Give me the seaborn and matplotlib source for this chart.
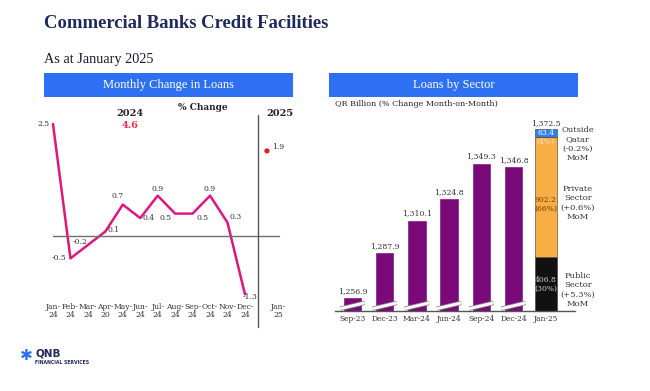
import numpy as np
import pandas as pd
import matplotlib
matplotlib.use("Agg")
import matplotlib.pyplot as plt
import seaborn as sns

# monthly change in loans (%)
months = ["Jan-\n24", "Feb-\n24", "Mar-\n24", "Apr-\n20", "May-\n24", "Jun-\n24",
          "Jul-\n24", "Aug-\n24", "Sep-\n24", "Oct-\n24", "Nov-\n24", "Dec-\n24"]
change_2024 = [2.5, -0.5, -0.2, 0.1, 0.7, 0.4, 0.9, 0.5, 0.5, 0.9, 0.3, -1.3]
jan25_tick = "Jan-\n25"
change_jan25 = 1.9
total_2024 = 4.6

# loans by sector (QR billion)
periods = ["Sep-23", "Dec-23", "Mar-24", "Jun-24", "Sep-24", "Dec-24", "Jan-25"]
loans = [1256.9, 1287.9, 1310.1, 1324.8, 1349.3, 1346.8]
jan25_total = 1372.5
sectors = ["Public\nSector", "Private\nSector", "Outside\nQatar"]
sector_values = [406.8, 902.2, 63.4]
sector_share = ["(30%)", "(66%)", "(4%)"]
sector_mom = ["(+5.3%)", "(+0.6%)", "(-0.2%)"]

W, H = 650, 391
NAVY = "#1f2a5c"
BLUE = "#2e70f2"
PINK = "#e0177a"
PURPLE = "#7a0a7a"
TXT = "#333333"
HEAD_FONT = ["Liberation Serif", "DejaVu Serif"]

sns.set_style("white")
plt.rcParams["font.family"] = ["DejaVu Serif"]

fig = plt.figure(figsize=(6.5, 3.91), dpi=100)


def px_axes(x0, y0, x1, y1):
    return fig.add_axes([x0 / W, 1 - y1 / H, (x1 - x0) / W, (y1 - y0) / H])


def ftext(x, y, s, **kw):
    return fig.text(x / W, 1 - y / H, s, **kw)


# titles
ftext(44, 23, "Commercial Banks Credit Facilities", fontsize=13.4, fontweight="bold",
      color=NAVY, va="center", family=HEAD_FONT)
ftext(44, 59, "As at January 2025", fontsize=10.3, color="#1a1a2e", va="center",
      family=HEAD_FONT)

for x0, x1, label in [(44, 293, "Monthly Change in Loans"), (329, 578, "Loans by Sector")]:
    hb = px_axes(x0, 73, x1, 97)
    hb.set_facecolor(BLUE)
    hb.set_xticks([])
    hb.set_yticks([])
    for s in hb.spines.values():
        s.set_visible(False)
    hb.text(0.5, 0.5, label, color="white", fontsize=9, ha="center", va="center",
            transform=hb.transAxes, family=HEAD_FONT)

# ---- left: monthly change line
ax1 = px_axes(40, 105, 295, 300)
df1 = pd.DataFrame({"pos": np.arange(len(months)), "change": change_2024})
sns.lineplot(data=df1, x="pos", y="change", ax=ax1, color=PINK, lw=1.8)
jan25_pos = 12.26
sns.scatterplot(x=[jan25_pos], y=[change_jan25], ax=ax1, color="#e31b23", s=14,
                edgecolor="none")
ax1.set_xlim(-13 / 17.45, 242 / 17.45)
ax1.set_ylim(-64 / 44.8, 131 / 44.8)
ax1.set_xticks(list(range(len(months))) + [12.9])
ax1.set_xticklabels(months + [jan25_tick], fontsize=5.5, color=TXT, linespacing=1.0)
ax1.tick_params(axis="x", length=0, pad=2)
ax1.set_yticks([])
ax1.set_xlabel("")
ax1.set_ylabel("")
for s in ax1.spines.values():
    s.set_visible(False)
ax1.axhline(0, xmin=13 / 255, xmax=239 / 255, color="#707070", lw=1)
ax1.axvline(11.75, ymin=-27 / 195, ymax=185 / 195, color="#555555", lw=1, clip_on=False)

offsets = [(-7, 0), (-8, 0), (-6, 2), (6, 1), (-4, 6), (6, 0),
           (0, 5), (-7, -3), (7, -3), (0, 5), (6, 4), (4, -2)]
for i, (v, (dx, dy)) in enumerate(zip(change_2024, offsets)):
    ax1.annotate(f"{v:.1f}", (i, v), xytext=(dx, dy), textcoords="offset points",
                 ha="center", va="center", fontsize=5.5, color=TXT)
ax1.annotate(f"{change_jan25:.1f}", (jan25_pos, change_jan25), xytext=(8, 3),
             textcoords="offset points", ha="center", va="center", fontsize=5.5, color=TXT)

ftext(130, 113, "2024", fontsize=7, fontweight="bold", color="#222222", ha="center", va="center")
ftext(130, 125, f"{total_2024:.1f}", fontsize=7, fontweight="bold", color="#e0314b",
      ha="center", va="center")
ftext(203, 107, "% Change", fontsize=6.5, fontweight="bold", color="#222222", ha="center", va="center")
ftext(280, 113, "2025", fontsize=7, fontweight="bold", color="#222222", ha="center", va="center")

# ---- right: loans by sector
ax2 = px_axes(335, 120, 575, 311)
ylo = 1247.26
df2 = pd.DataFrame({"period": periods[:len(loans)], "loans": loans})
sns.barplot(data=df2, x="period", y="loans", order=periods, color=PURPLE, saturation=1,
            width=0.6, ax=ax2)
ax2.set_ylim(ylo, ylo + 191 / 1.453)
ax2.set_xlim(-17.5 / 32.2, 222.5 / 32.2)

# stacked Jan-25 bar, scaled onto the broken axis
span = jan25_total - ylo
cum = np.concatenate([[0], np.cumsum(sector_values)])
edges = ylo + cum / jan25_total * span
seg_colors = ["#111111", "#f9ae45", "#2f7fe6"]
jx = len(periods) - 1
for k in range(3):
    ax2.bar(jx, edges[k + 1] - edges[k], bottom=edges[k], width=0.68, color=seg_colors[k],
            edgecolor="#3a3a3a", lw=0.4)

# value labels
for i, v in enumerate(loans + [jan25_total]):
    ax2.annotate(f"{v:,.1f}", (i, v), xytext=(0, 1.5), textcoords="offset points",
                 ha="center", va="bottom", fontsize=5.6, color=TXT)

# labels inside the stacked bar
mid = (edges[:-1] + edges[1:]) / 2
ax2.text(jx, mid[0], f"{sector_values[0]:.1f}\n{sector_share[0]}", ha="center", va="center",
         fontsize=5.5, color="#cfcfcf", linespacing=1.1)
ax2.text(jx, mid[1] - 5, f"{sector_values[1]:.1f}\n{sector_share[1]}", ha="center", va="center",
         fontsize=5.5, color="#6a4200", linespacing=1.1)
ax2.text(jx, mid[2], f"{sector_values[2]:.1f}", ha="center", va="center", fontsize=5.5, color="white")
ax2.annotate(sector_share[2], (jx, mid[2]), xytext=(0, -6), textcoords="offset points",
             ha="center", va="center", fontsize=5.5, color="#fde2b8")

# axis break marks
for i in range(len(loans)):
    ax2.plot([i - 0.38, i + 0.38], [ylo + 1.6, ylo + 5.6], color="#8a8a8a", lw=3.2,
             solid_capstyle="butt", zorder=4)
    ax2.plot([i - 0.38, i + 0.38], [ylo + 1.6, ylo + 5.6], color="white", lw=2.0,
             solid_capstyle="butt", zorder=5)

ax2.set_xlabel("")
ax2.set_ylabel("")
ax2.set_yticks([])
ax2.tick_params(axis="x", length=0, pad=3, labelsize=5.4, labelcolor=TXT)
for name, s in ax2.spines.items():
    s.set_visible(name == "bottom")
ax2.spines["bottom"].set_color("#555555")
ax2.spines["bottom"].set_linewidth(1)

ftext(335, 104, "QR Billion (% Change Month-on-Month)", fontsize=5.8, color="#222222", va="center")

for ylab, k in [(144, 2), (203, 1), (290, 0)]:
    ftext(578, ylab, f"{sectors[k]}\n{sector_mom[k]}\nMoM", fontsize=6, color=TXT,
          ha="center", va="center", linespacing=1.25)

# logo
ftext(26, 356, "\u2731", fontsize=11, color=BLUE, ha="center", va="center",
      family=["DejaVu Sans"])
ftext(35, 354, "QNB", fontsize=7.5, fontweight="bold", color=NAVY, va="center",
      family=["DejaVu Sans"])
ftext(35, 362, "FINANCIAL SERVICES", fontsize=3.3, fontweight="bold", color=NAVY,
      va="center", family=["DejaVu Sans"])

fig.savefig("out.png", dpi=100, facecolor="white")
